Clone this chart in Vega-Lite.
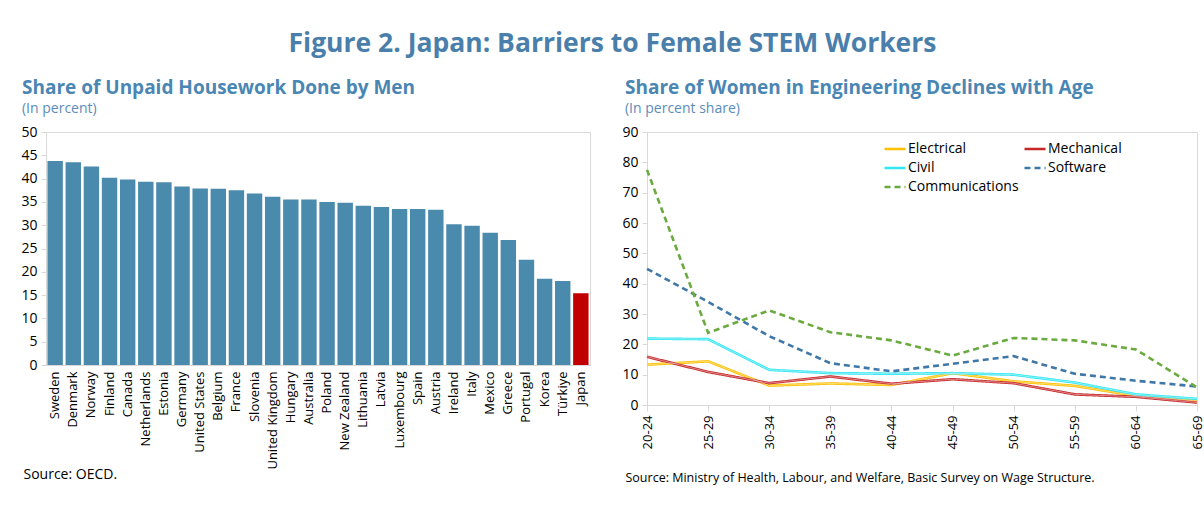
{
  "$schema": "https://vega.github.io/schema/vega-lite/v6.json",
  "padding": {"left": 20, "right": 2, "top": 31, "bottom": 5},
  "background": "white",
  "title": {
    "text": "Figure 2. Japan: Barriers to Female STEM Workers",
    "anchor": "middle",
    "font": "Open Sans",
    "fontSize": 26.5,
    "fontWeight": "bold",
    "color": "#4a7fab",
    "offset": 21
  },
  "config": {
    "font": "Open Sans",
    "view": {"stroke": "#d9d9d9"},
    "axis": {
      "domainColor": "#d9d9d9",
      "tickColor": "#d9d9d9",
      "grid": false,
      "labelColor": "#000000",
      "labelFont": "Open Sans",
      "titleFont": "Open Sans",
      "titleFontWeight": "normal",
      "titleColor": "#000000"
    }
  },
  "spacing": 30,
  "resolve": {"legend": {"color": "independent", "strokeDash": "independent"}},
  "hconcat": [
    {
      "width": 544,
      "height": 233,
      "title": {
        "text": "Share of Unpaid Housework Done by Men",
        "subtitle": "(In percent)",
        "anchor": "start",
        "frame": "bounds",
        "dx": 1,
        "font": "Open Sans",
        "fontSize": 19,
        "fontWeight": "bold",
        "color": "#4a86b4",
        "subtitleFont": "Open Sans",
        "subtitleFontSize": 14,
        "subtitleColor": "#5b8cbc",
        "subtitlePadding": 4,
        "offset": 9
      },
      "data": {
        "values": [
          {"country": "Sweden", "value": 43.8},
          {"country": "Denmark", "value": 43.5},
          {"country": "Norway", "value": 42.6},
          {"country": "Finland", "value": 40.2},
          {"country": "Canada", "value": 39.8},
          {"country": "Netherlands", "value": 39.3},
          {"country": "Estonia", "value": 39.2},
          {"country": "Germany", "value": 38.3},
          {"country": "United States", "value": 37.9},
          {"country": "Belgium", "value": 37.8},
          {"country": "France", "value": 37.5},
          {"country": "Slovenia", "value": 36.8},
          {"country": "United Kingdom", "value": 36.1},
          {"country": "Hungary", "value": 35.5},
          {"country": "Australia", "value": 35.5},
          {"country": "Poland", "value": 35.0},
          {"country": "New Zealand", "value": 34.8},
          {"country": "Lithuania", "value": 34.2},
          {"country": "Latvia", "value": 33.9},
          {"country": "Luxembourg", "value": 33.5},
          {"country": "Spain", "value": 33.5},
          {"country": "Austria", "value": 33.3},
          {"country": "Ireland", "value": 30.2},
          {"country": "Italy", "value": 29.9},
          {"country": "Mexico", "value": 28.4},
          {"country": "Greece", "value": 26.8},
          {"country": "Portugal", "value": 22.6},
          {"country": "Korea", "value": 18.5},
          {"country": "Türkiye", "value": 18.0},
          {"country": "Japan", "value": 15.4}
        ]
      },
      "mark": {"type": "bar"},
      "encoding": {
        "x": {
          "field": "country",
          "type": "nominal",
          "sort": null,
          "scale": {"paddingInner": 0.15, "paddingOuter": 0.08},
          "axis": {
            "labelAngle": -90,
            "labelFontSize": 13,
            "ticks": false,
            "labelPadding": 6,
            "title": "Source: OECD.",
            "titleFontSize": 14,
            "titleAnchor": "start",
            "titleAlign": "left",
            "titleX": -23,
            "titlePadding": -2
          }
        },
        "y": {
          "field": "value",
          "type": "quantitative",
          "scale": {"domain": [0, 50]},
          "axis": {
            "values": [0, 5, 10, 15, 20, 25, 30, 35, 40, 45, 50],
            "labelFontSize": 14,
            "tickSize": 5,
            "labelPadding": 4,
            "title": null
          }
        },
        "color": {
          "condition": {"test": "datum.country === 'Japan'", "value": "#c00000"},
          "value": "#4a8aad"
        }
      }
    },
    {
      "width": 550,
      "height": 273,
      "title": {
        "text": "Share of Women in Engineering Declines with Age",
        "subtitle": "(In percent share)",
        "anchor": "start",
        "frame": "bounds",
        "dx": 3,
        "font": "Open Sans",
        "fontSize": 19,
        "fontWeight": "bold",
        "color": "#4a86b4",
        "subtitleFont": "Open Sans",
        "subtitleFontSize": 14,
        "subtitleColor": "#5b8cbc",
        "subtitlePadding": 4,
        "offset": 9
      },
      "data": {
        "values": [
          {"age": "20-24", "series": "Electrical", "value": 13.3},
          {"age": "25-29", "series": "Electrical", "value": 14.4},
          {"age": "30-34", "series": "Electrical", "value": 6.4},
          {"age": "35-39", "series": "Electrical", "value": 7.1},
          {"age": "40-44", "series": "Electrical", "value": 6.6},
          {"age": "45-49", "series": "Electrical", "value": 10.5},
          {"age": "50-54", "series": "Electrical", "value": 7.8},
          {"age": "55-59", "series": "Electrical", "value": 6.3},
          {"age": "60-64", "series": "Electrical", "value": 3.0},
          {"age": "65-69", "series": "Electrical", "value": 1.3},
          {"age": "20-24", "series": "Mechanical", "value": 15.9},
          {"age": "25-29", "series": "Mechanical", "value": 10.9},
          {"age": "30-34", "series": "Mechanical", "value": 7.2},
          {"age": "35-39", "series": "Mechanical", "value": 9.4},
          {"age": "40-44", "series": "Mechanical", "value": 7.0},
          {"age": "45-49", "series": "Mechanical", "value": 8.5},
          {"age": "50-54", "series": "Mechanical", "value": 7.2},
          {"age": "55-59", "series": "Mechanical", "value": 3.5},
          {"age": "60-64", "series": "Mechanical", "value": 2.7},
          {"age": "65-69", "series": "Mechanical", "value": 0.8},
          {"age": "20-24", "series": "Civil", "value": 21.9},
          {"age": "25-29", "series": "Civil", "value": 21.7},
          {"age": "30-34", "series": "Civil", "value": 11.6},
          {"age": "35-39", "series": "Civil", "value": 10.5},
          {"age": "40-44", "series": "Civil", "value": 10.3},
          {"age": "45-49", "series": "Civil", "value": 10.5},
          {"age": "50-54", "series": "Civil", "value": 10.0},
          {"age": "55-59", "series": "Civil", "value": 7.4},
          {"age": "60-64", "series": "Civil", "value": 3.5},
          {"age": "65-69", "series": "Civil", "value": 2.0},
          {"age": "20-24", "series": "Software", "value": 44.9},
          {"age": "25-29", "series": "Software", "value": 34.0},
          {"age": "30-34", "series": "Software", "value": 22.7},
          {"age": "35-39", "series": "Software", "value": 13.8},
          {"age": "40-44", "series": "Software", "value": 11.1},
          {"age": "45-49", "series": "Software", "value": 13.6},
          {"age": "50-54", "series": "Software", "value": 16.1},
          {"age": "55-59", "series": "Software", "value": 10.3},
          {"age": "60-64", "series": "Software", "value": 8.0},
          {"age": "65-69", "series": "Software", "value": 6.1},
          {"age": "20-24", "series": "Communications", "value": 77.5},
          {"age": "25-29", "series": "Communications", "value": 23.8},
          {"age": "30-34", "series": "Communications", "value": 31.2},
          {"age": "35-39", "series": "Communications", "value": 24.0},
          {"age": "40-44", "series": "Communications", "value": 21.3},
          {"age": "45-49", "series": "Communications", "value": 16.3},
          {"age": "50-54", "series": "Communications", "value": 22.1},
          {"age": "55-59", "series": "Communications", "value": 21.3},
          {"age": "60-64", "series": "Communications", "value": 18.3},
          {"age": "65-69", "series": "Communications", "value": 5.8}
        ]
      },
      "encoding": {
        "x": {
          "field": "age",
          "type": "ordinal",
          "scale": {"type": "point", "padding": 0},
          "axis": {
            "labelAngle": -90,
            "labelFontSize": 13,
            "tickSize": 6,
            "labelPadding": 4,
            "title": "Source: Ministry of Health, Labour, and Welfare, Basic Survey on Wage Structure.",
            "titleFontSize": 12.5,
            "titleAnchor": "start",
            "titleAlign": "left",
            "titleX": -22,
            "titlePadding": 23
          }
        },
        "y": {
          "field": "value",
          "type": "quantitative",
          "scale": {"domain": [0, 90]},
          "axis": {
            "values": [0, 10, 20, 30, 40, 50, 60, 70, 80, 90],
            "labelFontSize": 14,
            "tickSize": 5,
            "labelPadding": 4,
            "title": null
          }
        }
      },
      "layer": [
        {
          "mark": {"type": "line", "strokeWidth": 2.6},
          "encoding": {
            "color": {
              "field": "series",
              "type": "nominal",
              "scale": {
                "domain": ["Electrical", "Mechanical", "Civil", "Software", "Communications"],
                "range": ["#ffc000", "#c62828", "#33e6f2", "#3f78a8", "#6aaa3f"]
              },
              "legend": {
                "title": null,
                "orient": "none",
                "direction": "horizontal",
                "legendX": 236,
                "legendY": 5,
                "columns": 2,
                "columnPadding": 0,
                "rowPadding": -1,
                "symbolType": "stroke",
                "symbolSize": 441,
                "symbolStrokeWidth": 2.5,
                "labelFontSize": 14,
                "labelColor": "#000000",
                "labelOffset": 1
              }
            },
            "strokeDash": {
              "field": "series",
              "type": "nominal",
              "scale": {
                "domain": ["Electrical", "Mechanical", "Civil", "Software", "Communications"],
                "range": [[1, 0], [1, 0], [1, 0], [6, 4], [6, 4]]
              },
              "legend": {
                "title": null,
                "orient": "none",
                "direction": "horizontal",
                "legendX": 236,
                "legendY": 5,
                "columns": 2,
                "columnPadding": 0,
                "rowPadding": -1,
                "symbolType": "stroke",
                "symbolSize": 441,
                "symbolStrokeWidth": 2.5,
                "labelFontSize": 14,
                "labelColor": "#000000",
                "labelOffset": 1
              }
            }
          }
        },
        {
          "transform": [{"filter": "datum.series === 'Electrical' || datum.series === 'Mechanical' || datum.series === 'Civil'"}],
          "mark": {"type": "line", "strokeWidth": 0.8, "color": "#ffffff", "opacity": 0.55},
          "encoding": {
            "detail": {"field": "series", "type": "nominal"}
          }
        }
      ]
    }
  ]
}
